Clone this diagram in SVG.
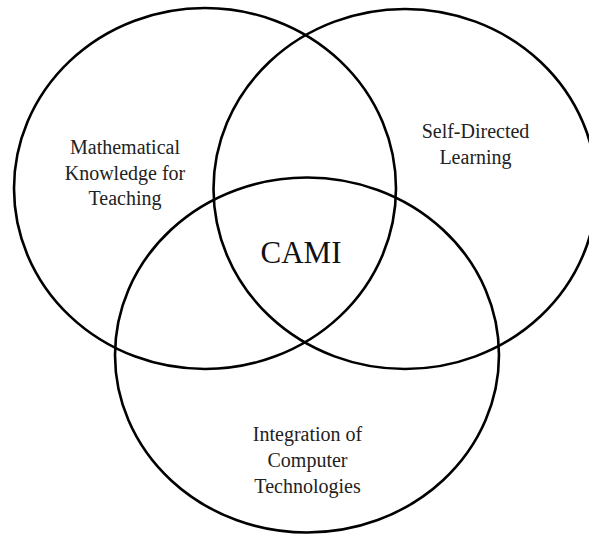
<svg xmlns="http://www.w3.org/2000/svg" width="589" height="535" viewBox="0 0 589 535">
  <style>
    .ring { fill: none; stroke: #000; stroke-width: 2.6; }
    .label { font-family: "Liberation Serif", "Times New Roman", serif; font-size: 20px; fill: #222; text-anchor: middle; }
    .core { font-family: "Liberation Serif", "Times New Roman", serif; font-size: 31px; fill: #111; text-anchor: middle; }
  </style>
  <rect width="589" height="535" fill="#fff"/>
  <g id="connectors"/>
  <g id="mkt">
    <ellipse class="ring" cx="205" cy="188.5" rx="191" ry="180.5"/>
    <text class="label" x="125" y="154">Mathematical</text>
    <text class="label" x="125" y="180">Knowledge for</text>
    <text class="label" x="125" y="205">Teaching</text>
  </g>
  <g id="sdl">
    <ellipse class="ring" cx="405" cy="189" rx="191.5" ry="180"/>
    <text class="label" x="475.5" y="138">Self-Directed</text>
    <text class="label" x="475.5" y="164">Learning</text>
  </g>
  <g id="ict">
    <ellipse class="ring" cx="307" cy="355" rx="192" ry="177.5"/>
    <text class="label" x="307.5" y="441">Integration of</text>
    <text class="label" x="307.5" y="467">Computer</text>
    <text class="label" x="307.5" y="493">Technologies</text>
  </g>
  <g id="cami">
    <text class="core" x="301" y="263">CAMI</text>
  </g>
</svg>
